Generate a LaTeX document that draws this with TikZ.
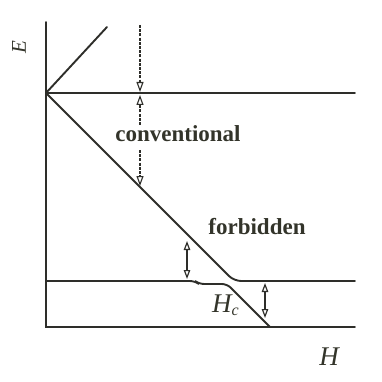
\documentclass[tikz,border=0pt]{standalone}
\usepackage{fontspec}
\setmainfont{Liberation Serif}
\usetikzlibrary{arrows.meta}
\definecolor{ink}{HTML}{2E2E2A}
\definecolor{txt}{HTML}{33342A}
\tikzset{
  curve/.style={draw=ink, line width=1.9pt, line cap=round},
  guide/.style={draw=ink, line width=1.1pt, dash pattern=on 3pt off 1.2pt},
  gap/.style={draw=ink, line width=1.2pt, {Triangle[open,length=9pt,width=6.5pt]}-{Triangle[open,length=9pt,width=6.5pt]}},
  onetip/.style={-{Triangle[open,length=10pt,width=7pt]}},
  lbl/.style={text=txt, inner sep=0pt},
}
\begin{document}
\begin{tikzpicture}[x=1pt,y=-1pt]
\useasboundingbox (0,0) rectangle (381,382);
% key points
\coordinate (O) at (46,93);
\coordinate (Atop) at (46,22);
\coordinate (Abot) at (46,327);
\coordinate (Bend) at (355,327);
\coordinate (Tend) at (355,93);
\coordinate (Up) at (107,27);
\coordinate (K1) at (234,281);
\coordinate (R1) at (355,281);
\coordinate (L0) at (46,281);
\coordinate (S1) at (195,281);
\coordinate (S2) at (199,284);
\coordinate (K2) at (227,284);
\coordinate (D2) at (270,327);
% axes and levels
\draw[curve] (Atop) -- (Abot) -- (Bend);
\draw[curve] (O) -- (Tend);
\draw[curve] (O) -- (Up);
\draw[curve, rounded corners=7pt] (O) -- (K1) -- (R1);
\draw[curve, rounded corners=5pt] (L0) -- (S1) -- (S2) -- (K2) -- (D2);
% dashed guide with arrows
\coordinate (g0) at (140,25);
\coordinate (g1) at (140,92);
\coordinate (g2) at (140,125);
\coordinate (g3) at (140,95);
\coordinate (g4) at (140,150);
\coordinate (g5) at (140,186);
\draw[guide, onetip] (g0) -- (g1);
\draw[guide, onetip] (g2) -- (g3);
\draw[guide, onetip] (g4) -- (g5);
% double arrows
\coordinate (a1) at (187,241);
\coordinate (a2) at (187,279);
\coordinate (b1) at (265,283);
\coordinate (b2) at (265,318);
\draw[gap] (a1) -- (a2);
\draw[gap] (b1) -- (b2);
% labels
\node[lbl, font=\fontsize{23}{23}\selectfont\bfseries] (conv) at (178,134) {conventional};
\node[lbl, font=\fontsize{23}{23}\selectfont\bfseries] (forb) at (257,227) {forbidden};
\node[lbl, font=\fontsize{27}{27}\selectfont\itshape] (H) at (329,357) {H};
\node[lbl, font=\fontsize{27}{27}\selectfont\itshape, anchor=base west] (Hc) at (212,312) {H\raisebox{-0.3ex}{\fontsize{16}{16}\selectfont c}};
\node[lbl, font=\fontsize{21}{21}\selectfont\itshape, rotate=90] (E) at (19,47) {E};
\end{tikzpicture}
\end{document}
